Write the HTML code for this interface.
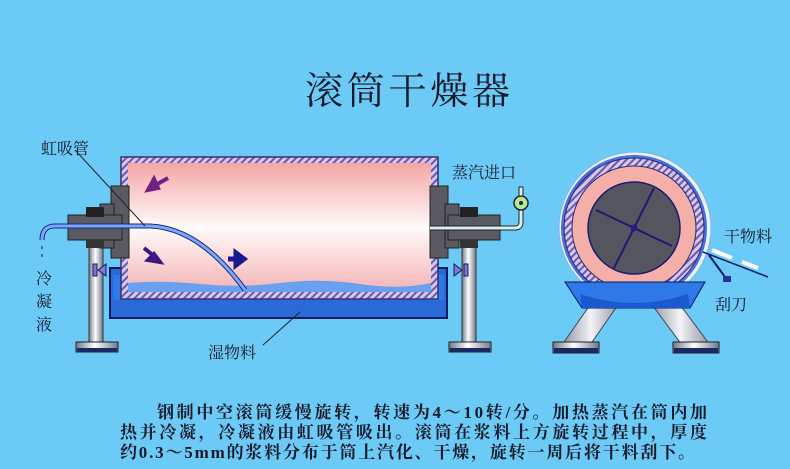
<!DOCTYPE html>
<html><head><meta charset="utf-8"><style>
html,body{margin:0;padding:0;background:#6ccaf6;}
svg{display:block}
text{font-family:"Liberation Serif","Noto Serif CJK SC",serif;fill:#1a1a2a}
</style></head><body>
<svg width="790" height="469" viewBox="0 0 790 469" xmlns="http://www.w3.org/2000/svg">
<defs>
<linearGradient id="pink" x1="0" y1="0" x2="0" y2="1">
<stop offset="0" stop-color="#f4a6a6"/><stop offset="0.5" stop-color="#fffafa"/><stop offset="1" stop-color="#f4b4b4"/></linearGradient>
<linearGradient id="post" x1="0" y1="0" x2="1" y2="0">
<stop offset="0" stop-color="#707888"/><stop offset="0.45" stop-color="#ffffff"/><stop offset="1" stop-color="#707888"/></linearGradient>
<pattern id="hatch" width="5" height="5" patternUnits="userSpaceOnUse" patternTransform="rotate(45)">
<rect width="5" height="5" fill="#d8c8f0"/><rect width="2" height="5" fill="#6a5aa8"/></pattern>
<linearGradient id="leg" x1="0" y1="0" x2="1" y2="0">
<stop offset="0" stop-color="#8a92a0"/><stop offset="0.5" stop-color="#f4f4f8"/><stop offset="1" stop-color="#8a92a0"/></linearGradient>
</defs>
<rect width="790" height="469" fill="#6ccaf6"/>
<text x="305" y="104" font-size="38" textLength="205">滚筒干燥器</text>

<!-- left post -->
<rect x="89" y="240" width="14" height="104" fill="url(#post)" stroke="#333" stroke-width="1"/>
<rect x="76" y="342" width="42" height="10" fill="url(#post)" stroke="#222"/>
<rect x="77" y="348" width="40" height="4" fill="#1a2a60"/>
<!-- right post -->
<rect x="462" y="240" width="14" height="104" fill="url(#post)" stroke="#333"/>
<rect x="449" y="342" width="42" height="10" fill="url(#post)" stroke="#222"/>
<rect x="450" y="348" width="40" height="4" fill="#1a2a60"/>

<!-- trough -->
<path d="M110 268 H447 V318 H110 Z" fill="#2a6ad8" stroke="#0a1a60" stroke-width="2"/>
<path d="M113 275 H444 V300 H113Z" fill="#2f78e8"/>
<!-- drum -->
<rect x="121" y="157" width="317" height="142" fill="url(#hatch)" stroke="#3a3070" stroke-width="1.5"/>
<rect x="128" y="163" width="303" height="129" fill="url(#pink)"/>
<path d="M128 283 Q160 280 200 284 T280 283 T360 284 T431 283 V292 H128Z" fill="#6aa0f0"/>
<!-- left flange/shaft -->
<rect x="111" y="186" width="18" height="72" fill="#5a5a62" stroke="#222"/>
<rect x="100" y="204" width="14" height="44" fill="#5a5a62" stroke="#222"/>
<rect x="68" y="215" width="54" height="25" fill="#5a5a62" stroke="#222"/>
<rect x="86" y="207" width="18" height="10" fill="#222"/>
<rect x="86" y="240" width="18" height="8" fill="#333"/>
<path d="M98 270 l8 -6 v12z M93 264 h4 v12 h-4z" fill="#7a78d0" stroke="#1a1a60"/>
<!-- right flange/shaft -->
<rect x="430" y="186" width="18" height="72" fill="#5a5a62" stroke="#222"/>
<rect x="445" y="204" width="14" height="44" fill="#5a5a62" stroke="#222"/>
<rect x="448" y="215" width="52" height="25" fill="#5a5a62" stroke="#222"/>
<rect x="460" y="207" width="18" height="10" fill="#222"/>
<rect x="460" y="240" width="18" height="8" fill="#333"/>
<path d="M462 270 l-8 -6 v12z M464 264 h4 v12 h-4z" fill="#7a78d0" stroke="#1a1a60"/>
<!-- steam pipe -->
<path d="M430 228 H515 Q521 228 521 222 V200" fill="none" stroke="#222" stroke-width="5"/>
<path d="M430 228 H515 Q521 228 521 222 V200" fill="none" stroke="#d8f0f0" stroke-width="3"/>
<circle cx="521" cy="203" r="7" fill="#b8e890" stroke="#224" stroke-width="1.5"/>
<circle cx="521" cy="203" r="2" fill="#224"/>
<rect x="519" y="187" width="4" height="9" fill="#d8f0f0" stroke="#222"/>
<!-- siphon -->
<path d="M42 240 Q42 226 55 226 H150 Q200 228 245 290" fill="none" stroke="#1a2a80" stroke-width="5"/>
<path d="M42 240 Q42 226 55 226 H150 Q200 228 245 290" fill="none" stroke="#7aa8f8" stroke-width="3"/>
<path d="M42 246 v3 M42 254 v3" stroke="#3070d0" stroke-width="2"/>
<line x1="75" y1="150" x2="145" y2="226" stroke="#222" stroke-width="1"/>
<line x1="263" y1="345" x2="300" y2="312" stroke="#222" stroke-width="1"/>
<!-- arrows -->
<path d="M168 178 l-14 8 M148 190 l6 -11 l4 9 z" stroke="#702080" stroke-width="4" fill="#702080"/>
<path d="M144 248 l10 8 M160 262 l-12 -2 l6 -6 z" stroke="#3a1a80" stroke-width="4" fill="#3a1a80"/>
<path d="M228 259 h10 M244 259 l-8 -6 v12 z" stroke="#1a1a90" stroke-width="5" fill="#1a1a90"/>
<!-- labels -->
<text x="41" y="154" font-size="16">虹吸管</text>
<text x="452" y="178" font-size="16">蒸汽进口</text>
<text x="36" y="284" font-size="16">冷</text>
<text x="36" y="307" font-size="16">凝</text>
<text x="36" y="330" font-size="16">液</text>
<text x="208" y="358" font-size="16">湿物料</text>

<!-- right view -->
<path d="M592 302 L620 302 L590 345 H562Z" fill="url(#leg)" stroke="#445"/>
<path d="M650 302 L678 302 L710 345 H682Z" fill="url(#leg)" stroke="#445"/>
<rect x="553" y="342" width="46" height="11" fill="url(#post)" stroke="#222"/>
<rect x="554" y="348" width="44" height="5" fill="#1a2a60"/>
<rect x="673" y="342" width="46" height="11" fill="url(#post)" stroke="#222"/>
<rect x="674" y="348" width="44" height="5" fill="#1a2a60"/>
<circle cx="635" cy="228" r="76" fill="#e8f4ff" stroke="#8ab0e0"/>
<circle cx="634" cy="228" r="73" fill="#4a70e0"/>
<circle cx="634" cy="228" r="70" fill="url(#hatch)" stroke="#2a2a70"/>
<circle cx="634" cy="228" r="62" fill="#f4b0a8" stroke="#2a2a70"/>
<circle cx="634" cy="228" r="46" fill="#555560" stroke="#1a1a70" stroke-width="1.5"/>
<line x1="596" y1="210" x2="672" y2="246" stroke="#1a1a70" stroke-width="2"/>
<line x1="654" y1="188" x2="614" y2="268" stroke="#1a1a70" stroke-width="2"/>
<circle cx="634" cy="228" r="3" fill="none" stroke="#1a1a90"/>
<path d="M565 282 H705 L690 308 H582Z" fill="#2f78e8" stroke="#0a1a60"/>
<path d="M580 294 Q634 312 688 294 L690 308 H582Z" fill="#1a5ad0"/>
<path d="M703 252 L768 277" stroke="#1a1a60" stroke-width="1.5"/>
<path d="M712 250 L732 258" stroke="#fff" stroke-width="4"/>
<path d="M742 262 L758 268" stroke="#fff" stroke-width="4"/>
<path d="M709 255 L725 277" stroke="#1a1a60" stroke-width="2"/>
<rect x="723" y="276" width="8" height="6" fill="#2a30a0"/>
<text x="724" y="242" font-size="16">干物料</text>
<text x="715" y="310" font-size="16">刮刀</text>

<!-- bottom text -->
<g font-weight="bold">
<text x="157" y="418" font-size="17" textLength="550">钢制中空滚筒缓慢旋转，转速为4～10转/分。加热蒸汽在筒内加</text>
<text x="120" y="438" font-size="17" textLength="587">热并冷凝，冷凝液由虹吸管吸出。滚筒在浆料上方旋转过程中，厚度</text>
<text x="120" y="458" font-size="17" textLength="575">约0.3～5mm的浆料分布于筒上汽化、干燥，旋转一周后将干料刮下。</text>
</g>
</svg>
</body></html>
